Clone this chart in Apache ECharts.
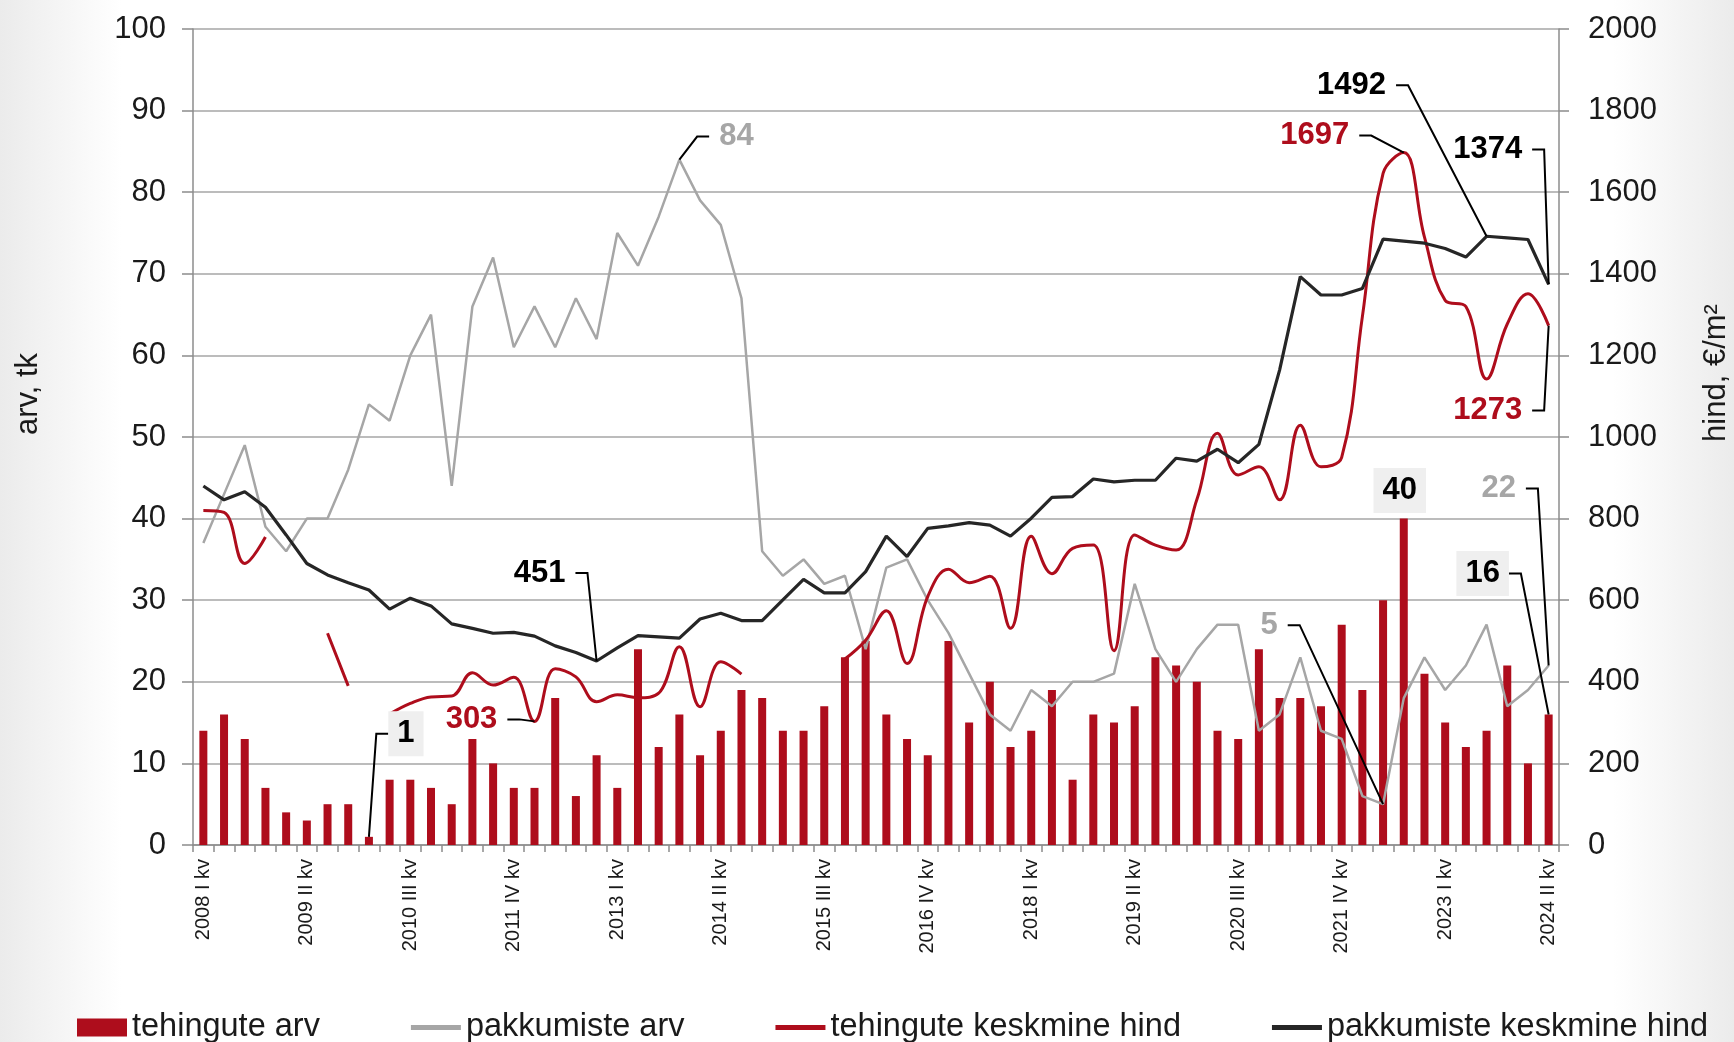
<!DOCTYPE html>
<html>
<head>
<meta charset="utf-8">
<title>tehingud ja pakkumised</title>
<script src="https://cdn.jsdelivr.net/npm/echarts@6.0.0/dist/echarts.min.js"></script>
<style>
  html, body { margin: 0; padding: 0; background: #fff; }
  #myChart { width: 1734px; height: 1042px; }
</style>
</head>
<body>
<div id="myChart"></div>
<script>
// kvartalid 2008 I kv ... 2024 II kv
const years = [2008, 2009, 2010, 2011, 2012, 2013, 2014, 2015, 2016, 2017, 2018, 2019, 2020, 2021, 2022, 2023, 2024]
const quarterNames = ['I', 'II', 'III', 'IV']
const categories = []
years.forEach(y => {
  quarterNames.forEach((q, qi) => {
    if (y === 2024 && qi > 1) return
    categories.push(y + ' ' + q + ' kv')
  })
})

// tehingute arv (vasak telg)
const dealCount = [14, 16, 13, 7, 4, 3, 5, 5, 1, 8,
  8, 7, 5, 13, 10, 7, 7, 18, 6, 11,
  7, 24, 12, 16, 11, 14, 19, 18, 14, 14,
  17, 23, 25, 16, 13, 11, 25, 15, 20, 12,
  14, 19, 8, 16, 15, 17, 23, 22, 20, 14,
  13, 24, 18, 18, 17, 27, 19, 30, 40, 21,
  15, 12, 14, 22, 10, 16]

// pakkumiste arv (vasak telg)
const offerCount = [37, 43, 49, 39, 36, 40, 40, 46, 54, 52,
  60, 65, 44, 66, 72, 61, 66, 61, 67, 62,
  75, 71, 77, 84, 79, 76, 67, 36, 33, 35,
  32, 33, 24, 34, 35, 30, 26, 21, 16, 14,
  19, 17, 20, 20, 21, 32, 24, 20, 24, 27,
  27, 14, 16, 23, 14, 13, 6, 5, 18, 23,
  19, 22, 27, 17, 19, 22]

// tehingute keskmine hind, €/m2 (parem telg), puuduvad = null
const dealPrice = [820, 815, 690, 755, null, null, 519, 390, null, 321,
  347, 363, 365, 422, 392, 411, 303, 432, 412, 351,
  368, 361, 372, 486, 339, 449, 419, null, null, null,
  null, 456, 502, 574, 445, 609, 676, 643, 659, 531,
  757, 665, 727, 735, 476, 760, 735, 723, 846, 1009,
  907, 927, 846, 1029, 927, 950, 1295, 1646, 1697, 1490,
  1335, 1320, 1142, 1277, 1351, 1273]

// pakkumiste keskmine hind, €/m2 (parem telg)
const offerPrice = [880, 846, 866, 828, 760, 690, 662, 643, 625, 578,
  605, 586, 542, 531, 519, 521, 512, 488, 472, 451,
  483, 513, 510, 507, 554, 568, 550, 550, 601, 651,
  618, 618, 670, 757, 707, 776, 782, 790, 784, 757,
  801, 852, 854, 897, 890, 894, 894, 948, 941, 970,
  937, 982, 1164, 1393, 1348, 1348, 1364, 1485, 1480, 1475,
  1462, 1441, 1492, 1488, 1484, 1374]

const RED = '#ae0d1c'
const GRAY = '#a6a6a6'
const BLACK = '#262626'
const FONT = 'Arial, "Liberation Sans", sans-serif'
const LINE_ICON = 'path://M0,0 H50 V5 H0 Z'

const myChart = echarts.init(document.getElementById('myChart'))

const option = {
  animation: false,
  backgroundColor: new echarts.graphic.LinearGradient(0, 0, 1, 0, [
    { offset: 0, color: '#ebebeb' },
    { offset: 0.07, color: '#ffffff' },
    { offset: 0.93, color: '#ffffff' },
    { offset: 1, color: '#ebebeb' }
  ]),
  textStyle: { fontFamily: FONT },
  grid: {
    left: 193,
    right: 175,
    top: 29,
    bottom: 197,
    outerBoundsMode: 'none'
  },
  legend: {
    left: 77,
    top: 1011,
    padding: 0,
    itemWidth: 50,
    itemHeight: 18,
    itemGap: 91,
    textStyle: { fontSize: 32.5, color: '#1a1a1a', fontFamily: FONT },
    data: [
      { name: 'tehingute arv', icon: 'rect' },
      { name: 'pakkumiste arv', icon: LINE_ICON },
      { name: 'tehingute keskmine hind', icon: LINE_ICON },
      { name: 'pakkumiste keskmine hind', icon: LINE_ICON }
    ]
  },
  xAxis: {
    type: 'category',
    data: categories,
    boundaryGap: true,
    axisLine: { lineStyle: { color: '#8c8c8c', width: 1.5 } },
    axisTick: { show: true, interval: 0, length: 7, lineStyle: { color: '#8c8c8c', width: 1.5 } },
    axisLabel: {
      interval: 4,
      rotate: 90,
      margin: 14,
      fontSize: 20,
      color: '#1a1a1a'
    },
    splitLine: { show: false }
  },
  yAxis: [
    {
      type: 'value',
      min: 0,
      max: 100,
      interval: 10,
      axisLine: { show: true, lineStyle: { color: '#8c8c8c', width: 1.5 } },
      axisTick: { show: true, length: 11, lineStyle: { color: '#8c8c8c', width: 1.5 } },
      axisLabel: { fontSize: 31, color: '#1a1a1a', margin: 27 },
      splitLine: { show: true, lineStyle: { color: '#a6a6a6', width: 1.5 } }
    },
    {
      type: 'value',
      min: 0,
      max: 2000,
      interval: 200,
      axisLine: { show: true, lineStyle: { color: '#8c8c8c', width: 1.5 } },
      axisTick: { show: true, length: 10, lineStyle: { color: '#8c8c8c', width: 1.5 } },
      axisLabel: { fontSize: 31, color: '#1a1a1a', margin: 29, formatter: v => String(v) },
      splitLine: { show: false }
    }
  ],
  series: [
    {
      name: 'tehingute arv',
      type: 'bar',
      yAxisIndex: 0,
      barWidth: 8,
      itemStyle: { color: RED },
      data: dealCount
    },
    {
      name: 'pakkumiste arv',
      type: 'line',
      yAxisIndex: 0,
      symbol: 'none',
      itemStyle: { color: GRAY },
      lineStyle: { color: GRAY, width: 2.5 },
      data: offerCount
    },
    {
      name: 'tehingute keskmine hind',
      type: 'line',
      yAxisIndex: 1,
      symbol: 'none',
      smooth: 0.4,
      connectNulls: false,
      itemStyle: { color: RED },
      lineStyle: { color: RED, width: 3 },
      data: dealPrice
    },
    {
      name: 'pakkumiste keskmine hind',
      type: 'line',
      yAxisIndex: 1,
      symbol: 'none',
      itemStyle: { color: BLACK },
      lineStyle: { color: BLACK, width: 3.2 },
      data: offerPrice
    }
  ]
}
myChart.setOption(option)

// andmesildid koos juhtjoontega; dx/dy = sildi keskpunkt punkti suhtes
const last = categories.length - 1
const notes = [
  { idx: 8, src: dealCount, axis: 0, dx: 37, dy: -103, color: '#000', box: true, lead: 'left' },
  { idx: 16, src: dealPrice, axis: 1, dx: -63, dy: -2, color: RED, lead: 'right' },
  { idx: 19, src: offerPrice, axis: 1, dx: -57, dy: -88, color: '#000', lead: 'right' },
  { idx: 23, src: offerCount, axis: 0, dx: 57, dy: -23, color: GRAY, lead: 'left' },
  { idx: 58, src: dealPrice, axis: 1, dx: -89, dy: -17, color: RED, lead: 'right' },
  { idx: 62, src: offerPrice, axis: 1, dx: -135, dy: -151, color: '#000', lead: 'right' },
  { idx: last, src: offerPrice, axis: 1, dx: -61, dy: -135, color: '#000', lead: 'right' },
  { idx: last, src: dealPrice, axis: 1, dx: -61, dy: 85, color: RED, lead: 'right' },
  { idx: last, src: offerCount, axis: 0, dx: -50, dy: -177, color: GRAY, lead: 'right' },
  { idx: last, src: dealCount, axis: 0, dx: -66, dy: -141, color: '#000', box: true, lead: 'right' },
  { idx: 58, src: dealCount, axis: 0, dx: -4, dy: -28, color: '#000', box: true },
  { idx: 57, src: offerCount, axis: 0, dx: -114, dy: -179, color: GRAY, lead: 'right' }
]

const measureCtx = document.createElement('canvas').getContext('2d')
function textWidth (text, font) {
  measureCtx.font = font
  return measureCtx.measureText(text).width
}

function drawNotes () {
  const items = []
  const noteFont = 'bold 31px ' + FONT
  notes.forEach(n => {
    const value = n.src[n.idx]
    const text = String(value)
    const p = myChart.convertToPixel({ xAxisIndex: 0, yAxisIndex: n.axis }, [n.idx, value])
    const cx = p[0] + n.dx
    const cy = p[1] + n.dy
    const w = textWidth(text, noteFont)
    items.push({
      type: 'text',
      z: 100,
      x: cx,
      y: cy,
      style: {
        text: text,
        fill: n.color,
        fontSize: 31,
        fontWeight: 'bold',
        fontFamily: FONT,
        align: 'center',
        verticalAlign: 'middle',
        backgroundColor: n.box ? '#efefef' : null,
        padding: n.box ? [7, 9] : 0
      }
    })
    if (n.lead) {
      const gap = n.box ? 9 : 10
      const sx = n.lead === 'right' ? cx + w / 2 + gap : cx - w / 2 - gap
      const tx = n.lead === 'right' ? sx + 12 : sx - 12
      items.push({
        type: 'polyline',
        z: 99,
        shape: { points: [[sx, cy], [tx, cy], [p[0], p[1]]] },
        style: { stroke: '#000', lineWidth: 2, fill: null }
      })
    }
  })
  // telgede pealkirjad
  items.push({
    type: 'text',
    z: 100,
    x: 28,
    y: 394,
    rotation: Math.PI / 2,
    style: { text: 'arv, tk', fill: '#1a1a1a', fontSize: 31, fontFamily: FONT, align: 'center', verticalAlign: 'middle' }
  })
  items.push({
    type: 'text',
    z: 100,
    x: 1716,
    y: 373,
    rotation: Math.PI / 2,
    style: { text: 'hind, €/m²', fill: '#1a1a1a', fontSize: 31, fontFamily: FONT, align: 'center', verticalAlign: 'middle' }
  })
  myChart.setOption({ graphic: items })
}
drawNotes()
</script>
</body>
</html>
